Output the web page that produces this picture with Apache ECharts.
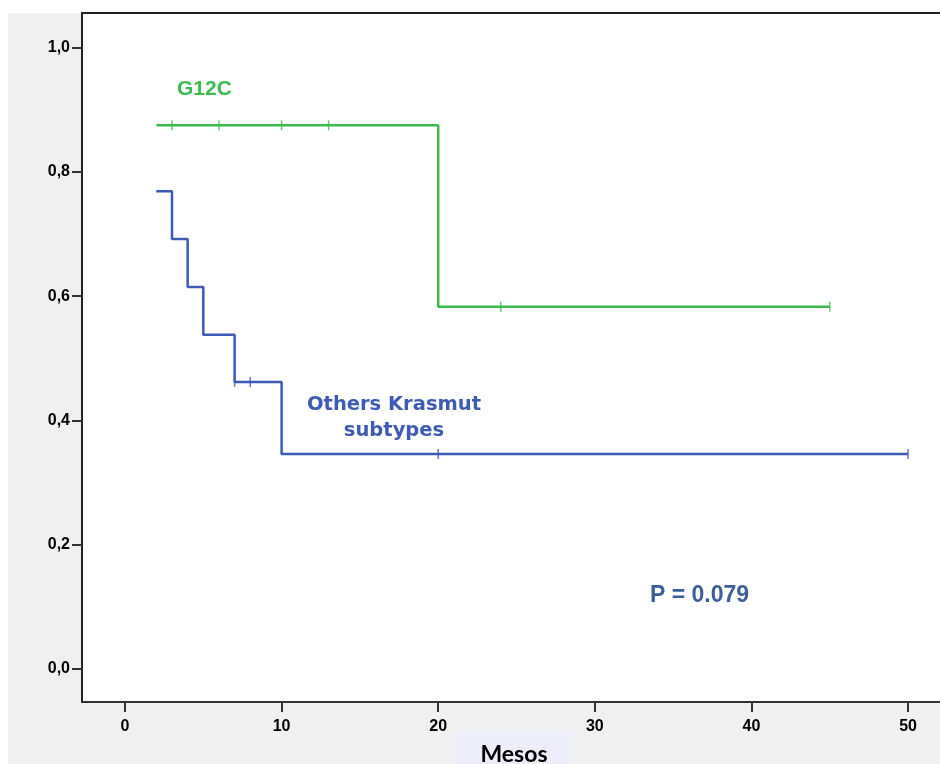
<!DOCTYPE html>
<html>
<head>
<meta charset="utf-8">
<script src="https://cdn.jsdelivr.net/npm/echarts@6/dist/echarts.min.js"></script>
<style>
  html, body { margin: 0; padding: 0; background: #fff; }
  #panel { position: absolute; left: 8px; top: 13px; width: 932px; height: 751px; background: #f0f0f0; }
  #main { position: absolute; left: 0; top: 0; width: 940px; height: 764px; }
</style>
</head>
<body>
<div id="panel"></div>
<div id="main"></div>
<script>
// Kaplan-Meier steps
var g12cX = [2, 20, 45];
var g12cY = [0.875, 0.583, 0.583];
var g12cCensorX = [3, 6, 10, 13, 24, 45];
var g12cCensorY = [0.875, 0.875, 0.875, 0.875, 0.583, 0.583];

var othersX = [2, 3, 4, 5, 7, 10, 50];
var othersY = [0.769, 0.692, 0.615, 0.538, 0.462, 0.346, 0.346];
var othersCensorX = [7, 8, 20, 50];
var othersCensorY = [0.462, 0.462, 0.346, 0.346];

var xTicks = [0, 10, 20, 30, 40, 50];
var yTicks = [0, 0.2, 0.4, 0.6, 0.8, 1.0];

var green = '#3dba4c';
var blue = '#3f5ab5';

function pairs(xs, ys) {
    var out = [];
    for (var i = 0; i < xs.length; i++) out.push([xs[i], ys[i]]);
    return out;
}

var myChart = echarts.init(document.getElementById('main'));
var tickFont = { fontFamily: 'Liberation Sans', fontWeight: 'bold', fontSize: 16, color: '#000' };

var option = {
    backgroundColor: 'transparent',
    animation: false,
    grid: {
        left: 82, top: 13, right: -5, bottom: 62,
        outerBoundsMode: 'none', containLabel: false,
        show: true, backgroundColor: '#fff', borderColor: '#222', borderWidth: 2
    },
    xAxis: {
        type: 'value',
        min: -2.746, max: 52.36,
        splitLine: { show: false },
        axisLine: { onZero: false, lineStyle: { color: '#333', width: 2 } },
        axisTick: { length: 10, lineStyle: { color: '#333', width: 2 }, customValues: xTicks },
        axisLabel: Object.assign({ margin: 17, customValues: xTicks }, tickFont)
    },
    yAxis: {
        type: 'value',
        min: -0.0531, max: 1.0558,
        splitLine: { show: false },
        axisLine: { onZero: false, lineStyle: { color: '#222', width: 2 } },
        axisTick: { length: 10, lineStyle: { color: '#333', width: 2 }, customValues: yTicks },
        axisLabel: Object.assign({
            margin: 12, customValues: yTicks,
            formatter: function (v) { return v.toFixed(1).replace('.', ','); }
        }, tickFont)
    },
    series: [
        {
            name: 'G12C', type: 'line', step: 'end', data: pairs(g12cX, g12cY),
            symbol: 'none', lineStyle: { color: green, width: 2.5 }
        },
        {
            name: 'G12C censored', type: 'scatter', data: pairs(g12cCensorX, g12cCensorY),
            symbol: 'rect', symbolSize: [1.5, 10], itemStyle: { color: green }
        },
        {
            name: 'Others', type: 'line', step: 'end', data: pairs(othersX, othersY),
            symbol: 'none', lineStyle: { color: blue, width: 2.5 }
        },
        {
            name: 'Others censored', type: 'scatter', data: pairs(othersCensorX, othersCensorY),
            symbol: 'rect', symbolSize: [1.5, 10], itemStyle: { color: blue }
        }
    ],
    graphic: [
        {
            type: 'text', left: 177, top: 79,
            style: { text: 'G12C', fill: green, font: 'bold 21px "Liberation Sans"' }
        },
        {
            type: 'text', x: 394, y: 392,
            style: {
                text: 'Others Krasmut\nsubtypes', fill: blue, align: 'center', lineHeight: 26,
                font: 'bold 19.5px "DejaVu Sans"'
            }
        },
        {
            type: 'text', left: 650, top: 584,
            style: { text: 'P = 0.079', fill: '#3d5e98', font: 'bold 23px "Liberation Sans"' }
        },
        {
            // axis title "Mesos" in its pale box below the axis
            type: 'text', x: 514, y: 731,
            style: {
                text: 'Mesos', fill: '#000', align: 'center', verticalAlign: 'top',
                font: 'bold 23px Lato', backgroundColor: '#eeeefa', padding: [12, 25, 9, 25]
            }
        }
    ]
};

myChart.setOption(option);
</script>
</body>
</html>
